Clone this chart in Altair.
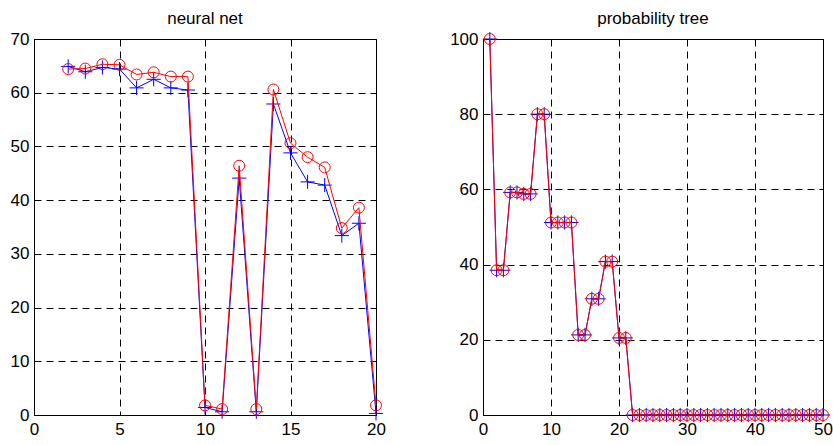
import altair as alt
import pandas as pd

# ---- data ----
nn_x = [2, 3, 4, 5, 6, 7, 8, 9, 10, 11, 12, 13, 14, 15, 16, 17, 18, 19, 20]
nn_blue = [64.9, 63.9, 64.7, 64.4, 60.9, 62.5, 60.9, 60.5, 1.4, 0.6, 44.1, 0.6,
           57.9, 48.8, 43.4, 42.8, 33.4, 35.7, 0.3]
nn_red = [64.4, 64.5, 65.3, 65.2, 63.4, 63.8, 63.0, 63.0, 1.8, 1.1, 46.4, 1.1,
          60.6, 50.6, 48.0, 46.1, 34.8, 38.6, 1.8]

tree_x = list(range(1, 51))
tree_blue = [100, 38.5, 38.5, 59.2, 59.2, 58.8, 58.8, 80.0, 80.0, 51.2,
             51.2, 51.2, 51.2, 21.3, 21.3, 30.9, 30.9, 40.8, 40.8, 20.5,
             20.5, 0, 0, 0, 0, 0, 0, 0, 0, 0,
             0, 0, 0, 0, 0, 0, 0, 0, 0, 0,
             0, 0, 0, 0, 0, 0, 0, 0, 0, 0]
tree_red = [100, 38.5, 38.5, 59.2, 59.2, 58.8, 58.8, 80.0, 80.0, 51.2,
            51.2, 51.2, 51.2, 21.3, 21.3, 30.9, 30.9, 40.8, 40.8, 20.5,
            20.5, 0, 0, 0, 0, 0, 0, 0, 0, 0,
            0, 0, 0, 0, 0, 0, 0, 0, 0, 0,
            0, 0, 0, 0, 0, 0, 0, 0, 0, 0]

left_titles = "neural net"
right_titles = "probability tree"
left_xticks = [0, 5, 10, 15, 20]
left_yticks = [0, 10, 20, 30, 40, 50, 60, 70]
right_xticks = [0, 10, 20, 30, 40, 50]
right_yticks = [0, 20, 40, 60, 80, 100]

FONT = "Liberation Sans"
PLUS = "M-1,0L1,0M0,-1L0,1"


def panel(xs, blue, red, title, xdom, xticks, ydom, yticks, w, h, yext):
    df_b = pd.DataFrame({"x": xs, "y": blue})
    df_r = pd.DataFrame({"x": xs, "y": red})
    xenc = alt.X("x:Q", scale=alt.Scale(domain=xdom, nice=False, zero=False),
                 axis=alt.Axis(values=xticks, title=None, grid=True, labelPadding=6,
                               labelFlush=False))
    yenc = alt.Y("y:Q", scale=alt.Scale(domain=ydom, nice=False, zero=False),
                 axis=alt.Axis(values=yticks, title=None, grid=True, labelPadding=5,
                               minExtent=yext, maxExtent=yext, labelFlush=False))
    bl = alt.Chart(df_b).mark_line(color="#0000ff", strokeWidth=1).encode(x=xenc, y=yenc)
    bp = alt.Chart(df_b).mark_point(shape=PLUS, color="#0000ff", size=200,
                                    strokeWidth=1, filled=False, opacity=1).encode(x=xenc, y=yenc)
    rl = alt.Chart(df_r).mark_line(color="#ff0000", strokeWidth=1).encode(x=xenc, y=yenc)
    rp = alt.Chart(df_r).mark_point(shape="circle", color="#ff0000", size=120,
                                    strokeWidth=1, filled=False, opacity=1).encode(x=xenc, y=yenc)
    return alt.layer(bl, bp, rl, rp).properties(
        width=w, height=h,
        title=alt.TitleParams(title, font=FONT, fontSize=17, fontWeight="normal",
                              color="black", offset=2))


left = panel(nn_x, nn_blue, nn_red, left_titles, [0, 20], left_xticks,
             [0, 70], left_yticks, 342, 376, 28)
right = panel(tree_x, tree_blue, tree_red, right_titles, [0, 50], right_xticks,
              [0, 100], right_yticks, 340, 376, 34)

chart = alt.hconcat(left, right, spacing=62).properties(
    padding={"left": 5, "top": 9, "right": 0, "bottom": 0},
    background="white"
).configure_view(stroke="black", strokeWidth=1).configure_axis(
    labelFont=FONT, labelFontSize=17, labelColor="black",
    gridColor="black", gridDash=[7, 5], gridOpacity=1, gridWidth=1,
    domain=False, ticks=False
)

chart.save("out.html", embed_options={"renderer": "svg", "actions": False})
